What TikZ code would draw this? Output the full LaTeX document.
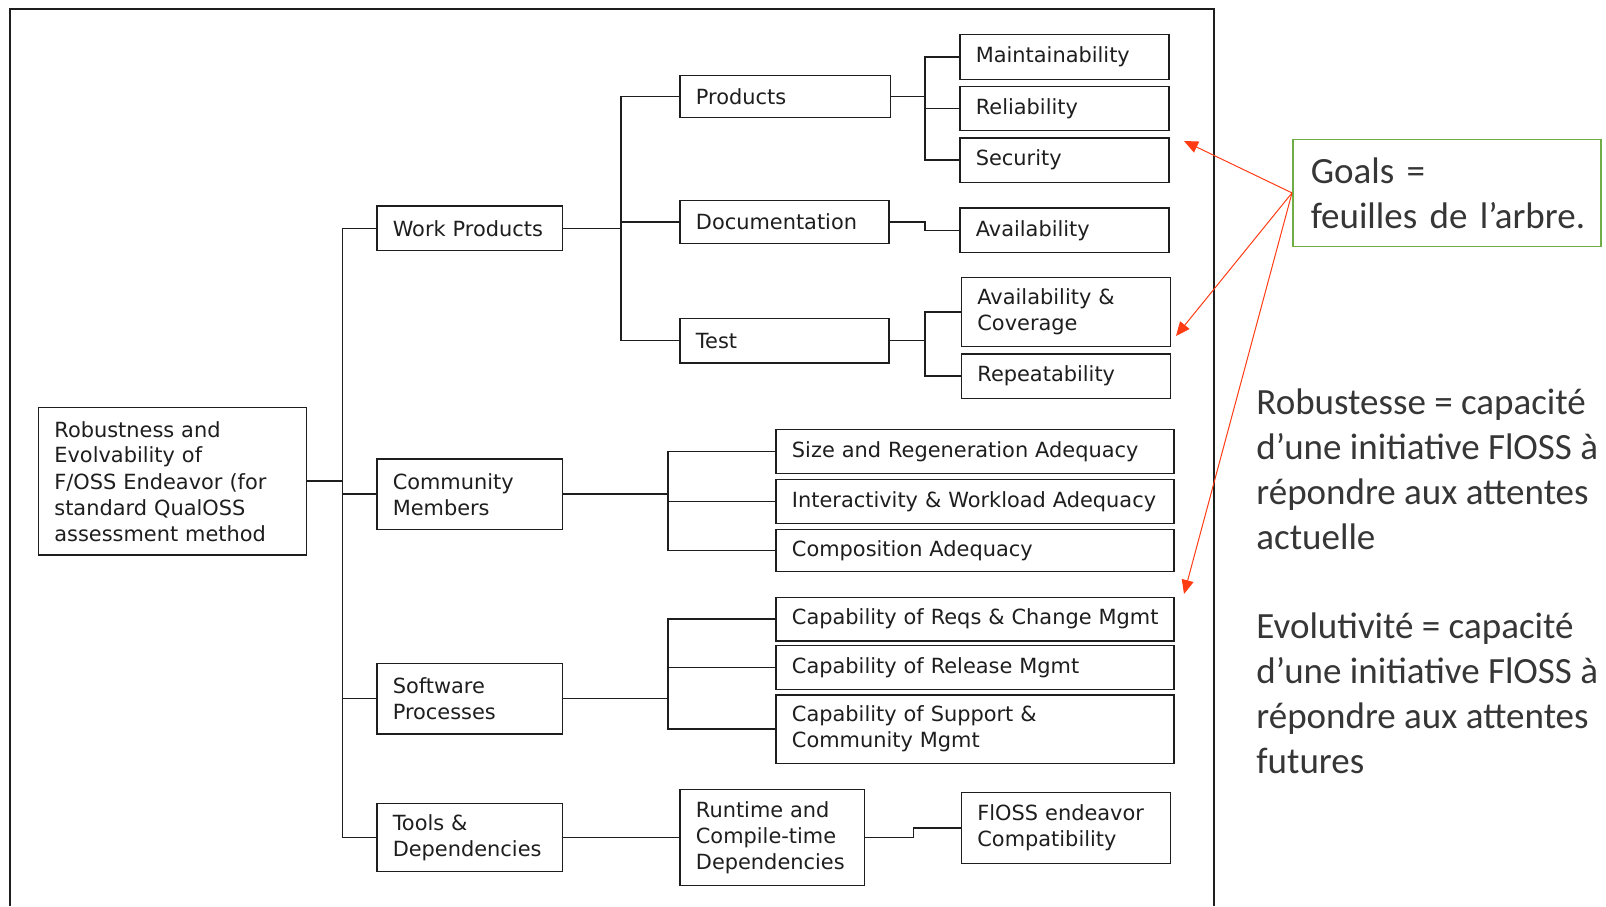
\documentclass[tikz,border=0pt]{standalone}
\usepackage{fontspec}
\setmainfont{DejaVu Sans}
\newfontfamily\rfont{Carlito}
\usetikzlibrary{arrows.meta}
\definecolor{ink}{HTML}{1E1E1E}
\definecolor{redc}{RGB}{255,60,20}
\definecolor{goalgreen}{HTML}{70AD47}
\definecolor{rtext}{HTML}{363636}
\newcommand{\boxfont}{\fontsize{10.45pt}{13pt}\selectfont}
\newcommand{\sidefont}{\rfont\fontsize{18.5pt}{22.5pt}\selectfont}
\hbadness=10000 \hfuzz=20pt
\begin{document}
\begin{tikzpicture}[x=0.5pt,y=-0.5pt,
  bx/.style={draw=ink, line width=0.75pt, inner xsep=8pt, inner ysep=0pt, align=left, font=\boxfont, text=ink},
  wire/.style={draw=ink, line width=0.75pt},
  framel/.style={draw=ink, line width=0.8pt},
  goalarrow/.style={draw=redc, line width=0.5pt, -{Triangle[length=7pt,width=6pt,fill=redc]}},
  sidetext/.style={anchor=base west, inner sep=0pt, text=rtext}]
\useasboundingbox (0,0) rectangle (1606,906);
\fill[white] (0,0) rectangle (1606,906);
% frame
\draw[framel] (10,906) -- (10,9) -- (1214,9) -- (1214,906);
% bus coordinates
\coordinate (bR) at (342.4,0);
\coordinate (bW) at (621,0);
\coordinate (bP) at (925,0);
\coordinate (bC) at (668,0);
\coordinate (bT) at (913.6,0);
% nodes
\node[bx, text width=118pt, minimum height=73.85pt] (root) at (172.4,481.2) {Robustness and\\Evolvability of\\F/OSS Endeavor (for\\standard QualOSS\\assessment method};
\node[bx, text width=76.75pt, minimum height=22.35pt] (wp) at (469.5,228.3) {Work Products};
\node[bx, text width=76.75pt, minimum height=35.15pt] (cm) at (469.5,494.2) {Community\\Members};
\node[bx, text width=76.75pt, minimum height=35.35pt] (sp) at (469.5,698.7) {Software\\Processes};
\node[bx, text width=76.75pt, minimum height=34.15pt] (td) at (469.5,837.5) {Tools \&\\Dependencies};
\node[bx, text width=89.35pt, minimum height=21pt] (prod) at (785.3,96.3) {Products};
\node[bx, text width=88.55pt, minimum height=21.3pt] (doc) at (784.5,222) {Documentation};
\node[bx, text width=88.55pt, minimum height=22.35pt] (test) at (784.5,340.7) {Test};
\node[bx, text width=88.6pt, minimum height=22.5pt] (maint) at (1064.4,56.8) {Maintainability};
\node[bx, text width=88.6pt, minimum height=22pt] (rel) at (1064.4,108.3) {Reliability};
\node[bx, text width=88.6pt, minimum height=22.15pt] (sec) at (1064.4,160.2) {Security};
\node[bx, text width=88.6pt, minimum height=22.35pt] (avail) at (1064.4,230.3) {Availability};
\node[bx, text width=88.6pt, minimum height=34.3pt] (avc) at (1066,312) {Availability \&\\Coverage};
\node[bx, text width=88.6pt, minimum height=22.15pt] (rep) at (1066,376.2) {Repeatability};
\node[bx, text width=183.05pt, minimum height=22pt] (size) at (975,451.3) {Size and Regeneration Adequacy};
\node[bx, text width=183.05pt, minimum height=22pt] (inter) at (975,501.3) {\mbox{Interactivity \& Workload Adequacy}};
\node[bx, text width=183.05pt, minimum height=21.2pt] (comp) at (975,550.5) {Composition Adequacy};
\node[bx, text width=183.05pt, minimum height=21.85pt] (reqs) at (975,619.2) {\mbox{Capability of Reqs \& Change Mgmt}};
\node[bx, text width=183.05pt, minimum height=21.8pt] (rel2) at (975,667.5) {Capability of Release Mgmt};
\node[bx, text width=183.05pt, minimum height=34.15pt] (supp) at (975,729.2) {Capability of Support \&\\Community Mgmt};
\node[bx, text width=76.3pt, minimum height=48.15pt] (run) at (772.2,837.5) {Runtime and\\Compile-time\\Dependencies};
\node[bx, text width=88.6pt, minimum height=35.3pt] (floss) at (1066,828) {FlOSS endeavor\\Compatibility};
% connectors
\foreach \c in {wp,cm,sp,td} \draw[wire] (root.east) -- (root.east -| bR) |- (\c.west);
\foreach \c in {prod,doc,test} \draw[wire] (wp.east) -- (wp.east -| bW) |- (\c.west);
\foreach \c in {maint,rel,sec} \draw[wire] (prod.east) -- (prod.east -| bP) |- (\c.west);
\draw[wire] (doc.east) -- (doc.east -| bP) |- (avail.west);
\foreach \c in {avc,rep} \draw[wire] (test.east) -- (test.east -| bP) |- (\c.west);
\foreach \c in {size,inter,comp} \draw[wire] (cm.east) -- (cm.east -| bC) |- (\c.west);
\foreach \c in {reqs,rel2,supp} \draw[wire] (sp.east) -- (sp.east -| bC) |- (\c.west);
\draw[wire] (td.east) -- (run.west);
\draw[wire] (run.east) -- (run.east -| bT) |- (floss.west);
% goals annotation
\node[draw=goalgreen, line width=0.75pt, inner xsep=9pt, inner ysep=0pt, text width=136.15pt, minimum height=53.55pt, align=left, text=rtext, font=\sidefont] (goals) at (1446.9,192.9) {Goals =\\\mbox{feuilles de l’arbre.}};
\coordinate (t1) at (1184,141);
\coordinate (t2) at (1176,336);
\coordinate (t3) at (1184,594);
\draw[goalarrow] (goals.west) -- (t1);
\draw[goalarrow] (goals.west) -- (t2);
\draw[goalarrow] (goals.west) -- (t3);
% side texts
\node[sidetext] (robtxt) at (1256,414.7) {\parbox[t]{185pt}{\sidefont Robustesse = capacité\\d’une initiative FlOSS à\\répondre aux attentes\\actuelle}};
\node[sidetext] (evotxt) at (1256,638) {\parbox[t]{185pt}{\sidefont Evolutivité = capacité\\d’une initiative FlOSS à\\répondre aux attentes\\futures}};
\end{tikzpicture}
\end{document}
